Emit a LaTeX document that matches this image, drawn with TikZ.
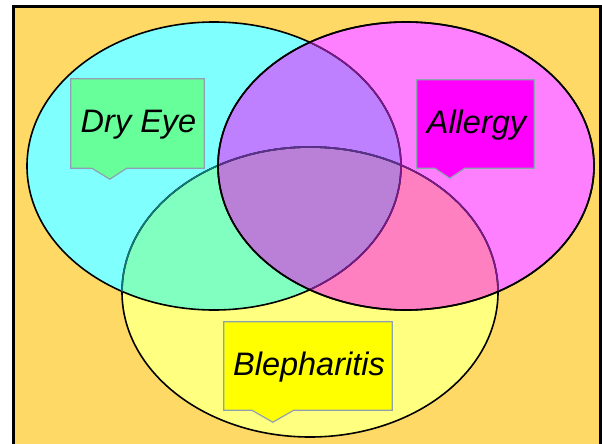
\documentclass[tikz,border=0pt]{standalone}
\usepackage{fontspec}
\setmainfont{Liberation Sans}
\usetikzlibrary{calc}
\definecolor{bgorange}{HTML}{FFD966}
\definecolor{cyc}{HTML}{80FFFF}
\definecolor{mgc}{HTML}{FF80FF}
\definecolor{ylc}{HTML}{FFFF80}
\definecolor{cmc}{HTML}{BF80FF}
\definecolor{cyyc}{HTML}{80FFC0}
\definecolor{myc}{HTML}{FF80C0}
\definecolor{cmyc}{HTML}{BA80D8}
\definecolor{dryfill}{HTML}{66FF99}
\definecolor{allfill}{HTML}{FF00FF}
\definecolor{blefill}{HTML}{FFFF00}
\definecolor{boxline}{HTML}{8FA0B0}
\definecolor{tealline}{HTML}{107878}
\definecolor{purpline}{HTML}{7A1A8A}
\definecolor{deepline}{HTML}{5A308A}
\tikzset{
  lbl/.style={inner sep=0pt, font=\fontsize{32.5}{32.5}\selectfont\itshape, text=black},
  callout/.style={draw=boxline, line width=1.2pt, line join=miter},
  ring/.style={line width=1.6pt}
}
\newcommand{\cyanell}{(214,166) ellipse [x radius=187pt, y radius=144pt]}
\newcommand{\magell}{(406,166) ellipse [x radius=188pt, y radius=144pt]}
\newcommand{\yelell}{(310,292) ellipse [x radius=188pt, y radius=145pt]}
\begin{document}
\begin{tikzpicture}[x=1pt, y=-1pt]
\useasboundingbox (0,0) rectangle (602,444);
% frame
\draw[fill=bgorange, line width=2.5pt] (13.5,6.5) rectangle (600.5,452);
% base regions
\fill[cyc] \cyanell;
\fill[mgc] \magell;
\fill[ylc] \yelell;
\begin{scope}\clip \cyanell; \fill[cmc] \magell; \end{scope}
\begin{scope}\clip \cyanell; \fill[cyyc] \yelell; \end{scope}
\begin{scope}\clip \magell; \fill[myc] \yelell; \end{scope}
\begin{scope}\clip \cyanell; \clip \magell; \fill[cmyc] \yelell; \end{scope}
% outlines
\draw[ring] \yelell;
\draw[ring] \cyanell;
\draw[ring] \magell;
\begin{scope}\clip \cyanell; \draw[ring, tealline] \yelell; \end{scope}
\begin{scope}\clip \magell; \draw[ring, purpline] \yelell; \end{scope}
\begin{scope}\clip \cyanell; \clip \magell; \draw[ring, deepline] \yelell; \end{scope}
\begin{scope}\clip \magell; \draw[ring, purpline] \cyanell; \end{scope}
\draw[ring] \magell;
% labels
\node[lbl, minimum width=133pt, minimum height=89pt] (dry) at (137.5,123.5) {};
\draw[callout, fill=dryfill] (dry.north west) -- (dry.north east) -- (dry.south east)
  -- ($(dry.south west)+(56,0)$) -- ($(dry.south west)+(39,11)$) -- ($(dry.south west)+(21,0)$)
  -- (dry.south west) -- cycle;
\node[lbl] (drytext) at ($(dry.center)+(1,1)$) {Dry Eye};
\node[lbl, minimum width=117pt, minimum height=88pt] (all) at (475.5,124) {};
\draw[callout, fill=allfill] (all.north west) -- (all.north east) -- (all.south east)
  -- ($(all.south west)+(48,0)$) -- ($(all.south west)+(33,10)$) -- ($(all.south west)+(18,0)$)
  -- (all.south west) -- cycle;
\node[lbl] (alltext) at ($(all.center)+(1,1)$) {Allergy};
\node[lbl, minimum width=168pt, minimum height=88pt] (ble) at (308,366) {};
\draw[callout, fill=blefill] (ble.north west) -- (ble.north east) -- (ble.south east)
  -- ($(ble.south west)+(70,0)$) -- ($(ble.south west)+(49,12)$) -- ($(ble.south west)+(28,0)$)
  -- (ble.south west) -- cycle;
\node[lbl] (bletext) at ($(ble.center)+(1,1)$) {Blepharitis};
\end{tikzpicture}
\end{document}
